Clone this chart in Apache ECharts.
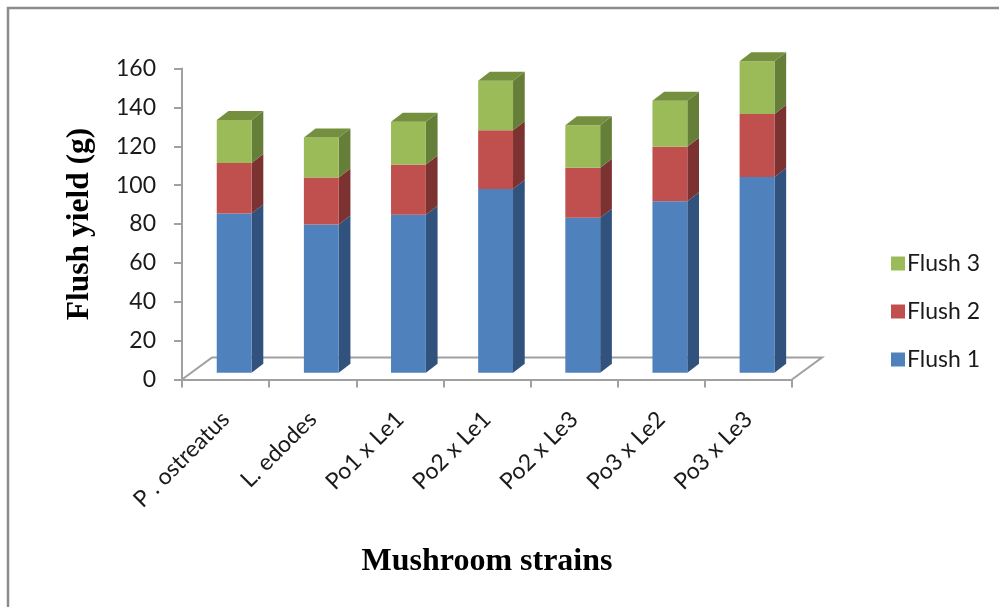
<!DOCTYPE html>
<html>
<head>
<meta charset="utf-8">
<style>html,body{margin:0;padding:0;background:#fff}#c{width:999px;height:607px}</style>
<script src="https://cdn.jsdelivr.net/npm/echarts@6/dist/echarts.min.js"></script>
</head>
<body>
<div id="c"></div>
<script>
const categories = ['P . ostreatus','L. edodes','Po1 x Le1','Po2 x Le1','Po2 x Le3','Po3 x Le2','Po3 x Le3'];
const flush1 = [82, 76.3, 81.3, 94.5, 79.8, 88.3, 100.7];
const flush2 = [26, 24.2, 25.9, 30.3, 25.7, 28, 32.4];
const flush3 = [22.1, 20.5, 21.9, 25.5, 21.8, 23.7, 27.2];
const yTicks = {min: 0, max: 160, interval: 20};
const seriesNames = ['Flush 1','Flush 2','Flush 3'];
const seriesValues = [flush1, flush2, flush3];
const faceColors = ['#4f81bd','#c0504d','#9bbb59'];
const sideColors = ['#30527c','#7c3230','#667f38'];
const topColor = '#74903f';

const AXIS = '#a0a0a0';
const BAR_BAND = 0.4;
const BAR_DX = 8.6, BAR_DY = -6.7;
const DEPTH_X = 11.7, DEPTH_Y = -9;
const FLOOR_X = 30, FLOOR_Y = -22;

function barItem(i, isTop) {
  return function (params, api) {
    const cat = api.value(0);
    const lo = api.coord([cat, api.value(1)]);
    const hi = api.coord([cat, api.value(2)]);
    const w = api.size([1, 0])[0] * BAR_BAND;
    const x0 = lo[0] - w / 2 + BAR_DX, x1 = x0 + w;
    const yb = lo[1] + BAR_DY, yt = hi[1] + BAR_DY;
    const ch = [
      {type:'polygon', shape:{points:[[x1,yb],[x1+DEPTH_X,yb+DEPTH_Y],[x1+DEPTH_X,yt+DEPTH_Y],[x1,yt]]}, style:{fill:sideColors[i]}},
      {type:'rect', shape:{x:x0,y:yt,width:w,height:yb-yt}, style:{fill:faceColors[i]}}
    ];
    if (isTop) ch.push({type:'polygon', shape:{points:[[x0,yt],[x1,yt],[x1+DEPTH_X,yt+DEPTH_Y],[x0+DEPTH_X,yt+DEPTH_Y]]}, style:{fill:topColor}});
    return {type:'group', children:ch};
  };
}

function floorItem(params) {
  const r = params.coordSys;
  const l = r.x, b = r.y + r.height, e = r.x + r.width;
  const style = {stroke:AXIS, lineWidth:2, fill:null};
  return {type:'polyline', shape:{points:[[l,b],[l+FLOOR_X,b+FLOOR_Y],[e+FLOOR_X,b+FLOOR_Y],[e,b]]}, style};
}

const series = [{
  type:'custom', name:'floor', silent:true, renderItem:floorItem, data:[[0,0,0]], encode:{x:0,y:1}, z:1
}].concat(seriesNames.map((name,i)=>({
  type:'custom', name, z:2+i,
  renderItem: barItem(i, i===seriesNames.length-1),
  itemStyle:{color:faceColors[i]},
  encode:{x:0,y:[1,2]},
  data: categories.map((c,k)=>{
    let base=0; for(let j=0;j<i;j++) base+=seriesValues[j][k];
    return [k, base, base+seriesValues[i][k]];
  })
})));

const chart = echarts.init(document.getElementById('c'), null, {renderer:'canvas'});
chart.setOption({
  animation:false,
  backgroundColor:'#fff',
  grid:{left:182, right:207, top:68.5, bottom:227.5, containLabel:false},
  legend:{
    orient:'vertical', left:886, top:247, itemWidth:14, itemHeight:14, itemGap:25,
    icon:'rect', data:['Flush 3','Flush 2','Flush 1'],
    textStyle:{fontFamily:'Lato', fontSize:23, color:'#1a1a1a', padding:[0,0,0,-3]}
  },
  xAxis:{
    type:'category', data:categories, boundaryGap:true,
    name:'Mushroom strains', nameLocation:'middle', nameGap:166,
    nameTextStyle:{fontFamily:'Liberation Serif', fontWeight:'bold', fontSize:32, color:'#000'},
    axisLine:{show:true, lineStyle:{color:AXIS,width:2}},
    axisTick:{show:true, alignWithLabel:false, length:8, lineStyle:{color:AXIS,width:2}},
    axisLabel:{rotate:45, interval:0, margin:36, fontFamily:'Lato', fontSize:23, color:'#1a1a1a'},
    splitLine:{show:false}
  },
  yAxis:{
    type:'value', min:yTicks.min, max:yTicks.max, interval:yTicks.interval,
    name:'Flush yield (g)', nameLocation:'middle', nameGap:86, nameRotate:90,
    nameTextStyle:{fontFamily:'Liberation Serif', fontWeight:'bold', fontSize:31.5, color:'#000'},
    axisLine:{show:true, lineStyle:{color:AXIS,width:2}},
    axisTick:{show:true, length:8, lineStyle:{color:AXIS,width:2}},
    axisLabel:{margin:26, fontFamily:'Lato', fontSize:23, color:'#1a1a1a'},
    splitLine:{show:false}
  },
  graphic:[
    {type:'polyline', silent:true, shape:{points:[[8,607],[8,8],[999,8]]}, style:{stroke:'#8c8c8c', lineWidth:2.5, fill:null}}
  ],
  series
});
</script>
</body>
</html>
